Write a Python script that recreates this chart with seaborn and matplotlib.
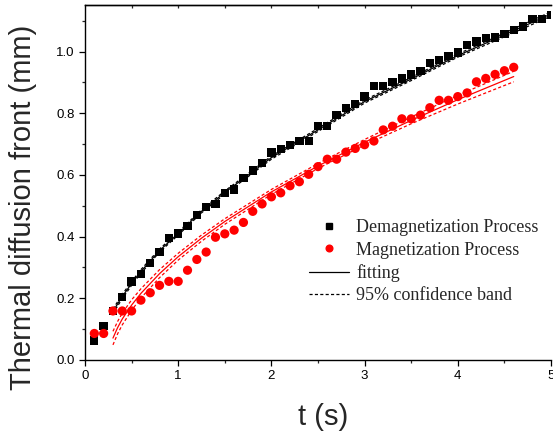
import numpy as np
import pandas as pd
import matplotlib
matplotlib.use("Agg")
import matplotlib.pyplot as plt
from matplotlib.lines import Line2D
from matplotlib.ticker import MultipleLocator, FormatStrFormatter
import seaborn as sns

# Measured diffusion-front positions
t_demag = [0.1, 0.2, 0.3, 0.4, 0.5, 0.6, 0.7, 0.8, 0.9, 1.0,
           1.1, 1.2, 1.3, 1.4, 1.5, 1.6, 1.7, 1.8, 1.9, 2.0,
           2.1, 2.2, 2.3, 2.4, 2.5, 2.6, 2.7, 2.8, 2.9, 3.0,
           3.1, 3.2, 3.3, 3.4, 3.5, 3.6, 3.7, 3.8, 3.9, 4.0,
           4.1, 4.2, 4.3, 4.4, 4.5, 4.6, 4.7, 4.8, 4.9, 5.0]
front_demag = [0.063, 0.110, 0.159, 0.205, 0.254, 0.278, 0.314, 0.351, 0.396, 0.410,
               0.434, 0.471, 0.495, 0.506, 0.542, 0.553, 0.591, 0.614, 0.638, 0.673,
               0.685, 0.697, 0.709, 0.710, 0.758, 0.758, 0.794, 0.818, 0.830, 0.854,
               0.889, 0.888, 0.901, 0.913, 0.926, 0.938, 0.962, 0.973, 0.985, 0.997,
               1.021, 1.033, 1.045, 1.046, 1.058, 1.070, 1.081, 1.105, 1.105, 1.118]

t_mag = [0.1, 0.2, 0.3, 0.4, 0.5, 0.6, 0.7, 0.8, 0.9, 1.0,
         1.1, 1.2, 1.3, 1.4, 1.5, 1.6, 1.7, 1.8, 1.9, 2.0,
         2.1, 2.2, 2.3, 2.4, 2.5, 2.6, 2.7, 2.8, 2.9, 3.0,
         3.1, 3.2, 3.3, 3.4, 3.5, 3.6, 3.7, 3.8, 3.9, 4.0,
         4.1, 4.2, 4.3, 4.4, 4.5, 4.6]
front_mag = [0.086, 0.086, 0.159, 0.159, 0.159, 0.194, 0.218, 0.242, 0.255, 0.255,
             0.291, 0.326, 0.350, 0.398, 0.409, 0.421, 0.446, 0.482, 0.506, 0.529,
             0.542, 0.565, 0.578, 0.602, 0.627, 0.651, 0.651, 0.674, 0.686, 0.698,
             0.710, 0.746, 0.758, 0.782, 0.782, 0.794, 0.818, 0.842, 0.842, 0.854,
             0.866, 0.902, 0.913, 0.926, 0.938, 0.949]

# Fitted curves and 95% confidence half-widths
fit_t_demag = [0.3, 0.35, 0.4, 0.5, 0.6, 0.8, 1.0, 1.25, 1.5, 2.0, 2.5, 3.0, 3.5, 4.0, 4.5, 5.0]
fit_demag = [0.157, 0.182, 0.206, 0.248, 0.287, 0.355, 0.410, 0.482, 0.543, 0.656,
             0.746, 0.838, 0.911, 0.987, 1.054, 1.122]
band_demag = [0.008, 0.007, 0.007, 0.006, 0.006, 0.005, 0.005, 0.005, 0.005, 0.005,
              0.005, 0.005, 0.005, 0.005, 0.006, 0.007]

fit_t_mag = [0.3, 0.35, 0.4, 0.5, 0.6, 0.8, 1.0, 1.25, 1.5, 2.0, 2.5, 3.0, 3.5, 4.0, 4.6]
fit_mag = [0.071, 0.105, 0.133, 0.178, 0.216, 0.280, 0.335, 0.395, 0.449, 0.545,
           0.629, 0.706, 0.777, 0.844, 0.919]
band_mag = [0.022, 0.020, 0.019, 0.017, 0.015, 0.013, 0.011, 0.010, 0.009, 0.008,
            0.008, 0.009, 0.011, 0.014, 0.017]

legend_labels = ["Demagnetization Process", "Magnetization Process",
                 "fitting", "95% confidence band"]

sns.set_style("ticks")
plt.rcParams["font.family"] = ["Liberation Sans", "DejaVu Sans"]

W, H = 553, 432
fig = plt.figure(figsize=(W / 100, H / 100), dpi=100)
ax = fig.add_axes([85 / W, 1 - 360 / H, (551 - 85) / W, (360 - 5) / H])

df_demag = pd.DataFrame({"t": t_demag, "front": front_demag})
df_mag = pd.DataFrame({"t": t_mag, "front": front_mag})

DASH = (0, (2.5, 1.8))


def draw_fit(ts, vals, band, color):
    v = np.asarray(vals)
    b = np.asarray(band)
    fd = pd.DataFrame({"t": ts, "mid": v, "lo": v - b, "hi": v + b})
    sns.lineplot(data=fd, x="t", y="mid", ax=ax, color=color, lw=0.9,
                 estimator=None, sort=False, zorder=2)
    for col in ("lo", "hi"):
        sns.lineplot(data=fd, x="t", y=col, ax=ax, color=color, lw=0.9,
                     estimator=None, sort=False, zorder=2, linestyle=DASH)


draw_fit(fit_t_demag, fit_demag, band_demag, "black")
draw_fit(fit_t_mag, fit_mag, band_mag, "#ff0000")

sns.scatterplot(data=df_demag, x="t", y="front", ax=ax, marker="s", s=36,
                color="black", edgecolor="none", linewidth=0, zorder=3)
sns.scatterplot(data=df_mag, x="t", y="front", ax=ax, marker="o", s=44,
                color="#ff0000", edgecolor="none", linewidth=0, zorder=3)

ax.set_xlim(0, 5)
ax.set_ylim(0, 1.151)
ax.xaxis.set_major_locator(MultipleLocator(1))
ax.xaxis.set_minor_locator(MultipleLocator(0.5))
ax.yaxis.set_major_locator(MultipleLocator(0.2))
ax.yaxis.set_minor_locator(MultipleLocator(0.1))
ax.xaxis.set_major_formatter(FormatStrFormatter("%d"))
ax.yaxis.set_major_formatter(FormatStrFormatter("%.1f"))

for side in ("left", "bottom", "top"):
    ax.spines[side].set_linewidth(1.0)
    ax.spines[side].set_color("black")
ax.spines["right"].set_visible(False)

ax.tick_params(axis="both", which="major", direction="out", length=4.5, width=0.9,
               labelsize=9.5, pad=3, colors="black")
ax.tick_params(axis="both", which="minor", direction="out", length=2.5, width=0.9)
ax.tick_params(top=False, right=False, which="both")

top = ax.secondary_xaxis("top")
top.set_xticks([0.5, 1.0, 1.5, 2.0, 2.5, 3.0, 3.5, 4.0, 4.5])
top.tick_params(direction="in", length=2.5, width=0.9, labeltop=False)
top.spines["top"].set_linewidth(1.0)

ax.set_xlabel("t (s)", fontsize=21)
ax.set_ylabel("Thermal diffusion front (mm)", fontsize=21)
ax.xaxis.set_label_coords(0.51, -0.122)
ax.yaxis.set_label_coords(-0.102, 0.43)

handles = [
    Line2D([], [], linestyle="none", marker="s", markersize=4.2, color="black"),
    Line2D([], [], linestyle="none", marker="o", markersize=4.8, color="#ff0000"),
    Line2D([], [], color="black", lw=0.9),
    Line2D([], [], color="black", lw=0.9, linestyle=DASH),
]
ax.legend(handles, legend_labels, loc="upper left",
          bbox_to_anchor=(309 / W, 1 - 219.5 / H), bbox_transform=fig.transFigure,
          frameon=False, prop={"family": "Liberation Serif", "size": 13},
          handlelength=2.2, handletextpad=0.4, labelspacing=0.29,
          borderpad=0, borderaxespad=0)

fig.savefig("out.png", dpi=100)
